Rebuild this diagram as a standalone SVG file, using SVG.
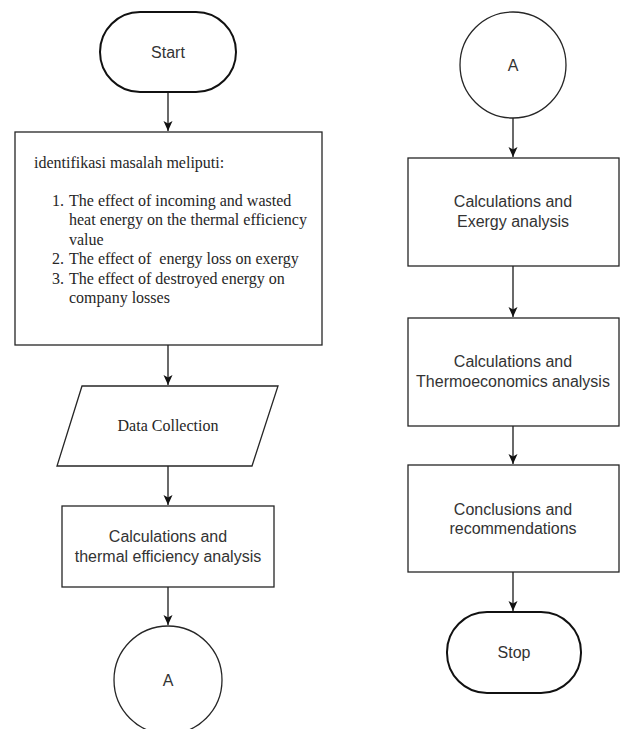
<svg xmlns="http://www.w3.org/2000/svg" width="625" height="729" viewBox="0 0 625 729">
<style>
.shape{fill:#ffffff;stroke:#262626;stroke-width:1.3}
.term{fill:#ffffff;stroke:#111111;stroke-width:2}
.sans{font-family:"Liberation Sans",Arial,sans-serif;font-size:16px;fill:#333333;text-anchor:middle}
.serif{font-family:"Liberation Serif","Times New Roman",serif;font-size:16px;fill:#262626}
.serifc{font-family:"Liberation Serif","Times New Roman",serif;font-size:16px;fill:#262626;text-anchor:middle}
.conn{stroke:#1a1a1a;stroke-width:1.3;fill:none}
</style>
<defs>
<marker id="arrow" markerUnits="userSpaceOnUse" markerWidth="10" markerHeight="10" viewBox="0 0 10 10" refX="10" refY="5" orient="auto">
<path d="M0,0.5 L10,5 L0,9.5 L2.5,5 Z" fill="#111111"/>
</marker>
</defs>
<rect width="625" height="729" fill="#ffffff"/>
<g id="connectors">
<line class="conn" x1="168" y1="92" x2="168" y2="131" marker-end="url(#arrow)"/>
<line class="conn" x1="168" y1="345" x2="168" y2="385" marker-end="url(#arrow)"/>
<line class="conn" x1="168" y1="466" x2="168" y2="505" marker-end="url(#arrow)"/>
<line class="conn" x1="168" y1="587" x2="168" y2="625" marker-end="url(#arrow)"/>
<line class="conn" x1="513" y1="118" x2="513" y2="157" marker-end="url(#arrow)"/>
<line class="conn" x1="513" y1="266" x2="513" y2="317" marker-end="url(#arrow)"/>
<line class="conn" x1="513" y1="426" x2="513" y2="464" marker-end="url(#arrow)"/>
<line class="conn" x1="513" y1="572" x2="513" y2="611" marker-end="url(#arrow)"/>
</g>
<g id="start">
<rect class="term" x="100" y="12" width="136" height="80" rx="40" ry="40"/>
<text class="sans" x="168" y="57.5">Start</text>
</g>
<g id="problem">
<rect class="shape" x="15" y="132" width="307" height="213"/>
<text class="serif" x="34" y="168">identifikasi masalah meliputi:</text>
<text class="serif" x="52" y="206">1.</text>
<text class="serif" x="69" y="206">The effect of incoming and wasted</text>
<text class="serif" x="69" y="225.4">heat energy on the thermal efficiency</text>
<text class="serif" x="69" y="244.8">value</text>
<text class="serif" x="52" y="264.2">2.</text>
<text class="serif" x="69" y="264.2" xml:space="preserve">The effect of  energy loss on exergy</text>
<text class="serif" x="52" y="283.6">3.</text>
<text class="serif" x="69" y="283.6">The effect of destroyed energy on</text>
<text class="serif" x="69" y="303">company losses</text>
</g>
<g id="data">
<polygon class="shape" points="82,386 278,386 252,466 57,466"/>
<text class="serifc" x="168" y="431">Data Collection</text>
</g>
<g id="calc-thermal">
<rect class="shape" x="62" y="506" width="212" height="81"/>
<text class="sans" x="168" y="542">Calculations and</text>
<text class="sans" x="168" y="562">thermal efficiency analysis</text>
</g>
<g id="connector-a-out">
<circle class="shape" cx="168" cy="680" r="54"/>
<text class="sans" x="168" y="685.5">A</text>
</g>
<g id="connector-a-in">
<circle class="shape" cx="513" cy="65" r="53"/>
<text class="sans" x="513" y="70.5">A</text>
</g>
<g id="calc-exergy">
<rect class="shape" x="408" y="158" width="211" height="108"/>
<text class="sans" x="513" y="207">Calculations and</text>
<text class="sans" x="513" y="227">Exergy analysis</text>
</g>
<g id="calc-thermo">
<rect class="shape" x="408" y="318" width="211" height="108"/>
<text class="sans" x="513" y="367">Calculations and</text>
<text class="sans" x="513" y="387">Thermoeconomics analysis</text>
</g>
<g id="conclusions">
<rect class="shape" x="408" y="465" width="211" height="107"/>
<text class="sans" x="513" y="515">Conclusions and</text>
<text class="sans" x="513" y="534">recommendations</text>
</g>
<g id="stop">
<rect class="term" x="447" y="612" width="134" height="81" rx="40" ry="40"/>
<text class="sans" x="514" y="658">Stop</text>
</g>
</svg>
